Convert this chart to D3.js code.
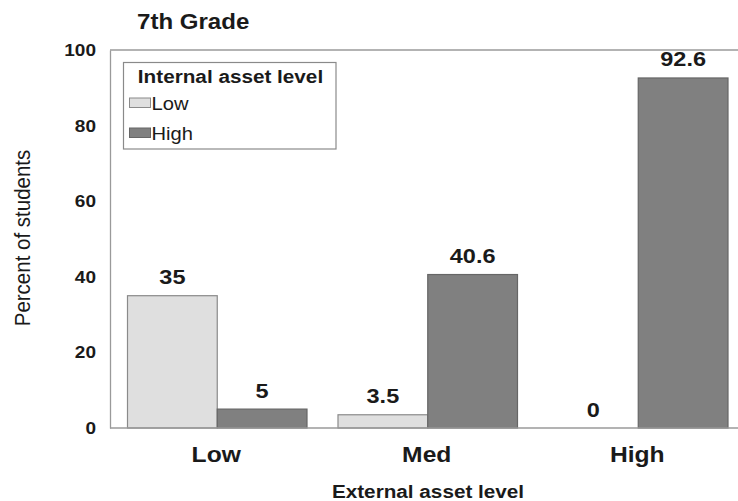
<!DOCTYPE html>
<html><head><meta charset="utf-8">
<script src="https://cdn.jsdelivr.net/npm/d3@7"></script>
<style>body{margin:0;background:#fff}svg{display:block}text{font-family:"Liberation Sans",Arial,sans-serif}</style>
</head><body>
<svg id="c" width="738" height="501"></svg>
<script>
const categories = ["Low", "Med", "High"];
const seriesNames = ["Low", "High"];
const lowValues = [35, 3.5, 0];
const highValues = [5, 40.6, 92.6];
const valueLabels = [["35", "3.5", "0"], ["5", "40.6", "92.6"]];
const yTicks = [0, 20, 40, 60, 80, 100];
const colors = ["#dfdfdf", "#808080"];
const strokes = ["#8a8a8a", "#666666"];

(function () {
const SX = 1.12; // horizontal stretch of the reference's text
const svg = d3.select("#c");
const mLeft = 110, mTop = 50, mBottom = 428, mRight = 738;
const ink = "#1a1a1a";

function label(parent, x, y, txt, size, bold, anchor) {
  return parent.append("text")
    .attr("transform", `translate(${x},${y}) scale(${SX},1)`)
    .attr("text-anchor", anchor || "start")
    .attr("font-size", size)
    .attr("font-weight", bold ? "bold" : "normal")
    .attr("fill", ink)
    .text(txt);
}

const y = d3.scaleLinear().domain([0, 100]).range([mBottom, mTop]);
const x = d3.scaleBand().domain(categories).range([112, 743.5]).paddingInner(31/210.5).paddingOuter(31/210.5/2);
const xs = d3.scaleBand().domain(seriesNames).range([0, x.bandwidth()]);

svg.append("line").attr("x1", mLeft).attr("x2", mRight).attr("y1", mTop).attr("y2", mTop).attr("stroke", "#9a9a9a").attr("stroke-width", 1.3);

const yAxis = svg.append("g").attr("transform", `translate(${mLeft},0)`)
  .call(d3.axisLeft(y).tickValues(yTicks).tickSize(0).tickPadding(14));
yAxis.select(".domain").attr("stroke", "#9a9a9a").attr("stroke-width", 1.3);
yAxis.selectAll("text").attr("x", null).attr("transform", `translate(-14,0) scale(${SX},1)`)
  .attr("font-size", 17).attr("font-weight", "bold").attr("fill", ink)
  .attr("font-family", "Liberation Sans, Arial, sans-serif");

const data = [lowValues, highValues];
data.forEach((vals, si) => {
  svg.append("g").selectAll("rect").data(vals).join("rect")
    .attr("x", (d, i) => x(categories[i]) + xs(seriesNames[si]))
    .attr("y", d => y(d))
    .attr("width", xs.bandwidth())
    .attr("height", d => y(0) - y(d))
    .attr("fill", colors[si])
    .attr("stroke", strokes[si])
    .attr("stroke-width", 1.2);
  const g = svg.append("g");
  vals.forEach((d, i) => {
    label(g, x(categories[i]) + xs(seriesNames[si]) + xs.bandwidth() / 2, y(d) - 11.5, valueLabels[si][i], 21, true, "middle");
  });
});

const xAxis = svg.append("g").attr("transform", `translate(0,${mBottom})`)
  .call(d3.axisBottom(x).tickSize(0).tickPadding(18));
xAxis.select(".domain").remove();
svg.append("line").attr("x1", mLeft).attr("x2", mRight).attr("y1", mBottom).attr("y2", mBottom).attr("stroke", "#9a9a9a").attr("stroke-width", 1.3);
xAxis.selectAll("text").attr("transform", `scale(${SX},1)`)
  .attr("font-size", 22).attr("font-weight", "bold").attr("fill", ink)
  .attr("font-family", "Liberation Sans, Arial, sans-serif");
xAxis.selectAll(".tick").attr("transform", d => `translate(${x(d) + x.bandwidth()/2 - 1},0)`);

label(svg, 137, 29, "7th Grade", 21.5, true);
label(svg, 428, 498, "External asset level", 18.5, true, "middle");
svg.append("text").attr("transform", `translate(30,238) rotate(-90) scale(1,${SX})`)
  .attr("text-anchor", "middle").attr("font-size", 20.5).attr("fill", ink).text("Percent of students");

const lg = svg.append("g");
lg.append("rect").attr("x", 123.5).attr("y", 62.5).attr("width", 212.5).attr("height", 86.5).attr("fill", "#fff").attr("stroke", "#8a8a8a").attr("stroke-width", 1.2);
label(lg, 230.5, 83, "Internal asset level", 18.5, true, "middle");
seriesNames.forEach((s, i) => {
  const cy = 102.5 + i * 30;
  lg.append("rect").attr("x", 129.5).attr("y", cy - 4.5).attr("width", 21).attr("height", 9.5).attr("fill", colors[i]).attr("stroke", strokes[i]).attr("stroke-width", 1);
  label(lg, 151.5, cy + 7.5, s, 18, false);
});
})();
</script>
</body></html>
